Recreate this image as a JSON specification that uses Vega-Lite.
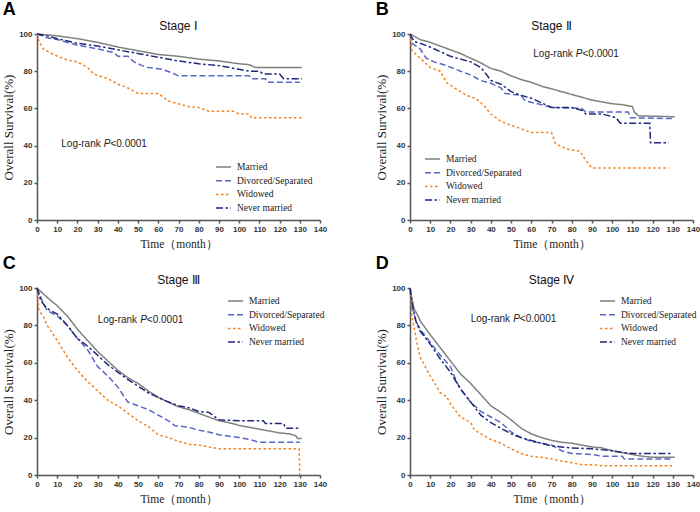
{
"$schema":"https://vega.github.io/schema/vega-lite/v6.json",
"padding":{"left":2,"top":1,"right":2,"bottom":2},
"background":"white",
"datasets":{
"km":[
{"p":"A","g":"Married","t":0,"s":100},{"p":"A","g":"Married","t":5,"s":99.5},{"p":"A","g":"Married","t":10,"s":99},{"p":"A","g":"Married","t":20,"s":97.5},{"p":"A","g":"Married","t":30,"s":95.5},{"p":"A","g":"Married","t":40,"s":93},{"p":"A","g":"Married","t":50,"s":91},{"p":"A","g":"Married","t":60,"s":89},{"p":"A","g":"Married","t":70,"s":88},{"p":"A","g":"Married","t":80,"s":86.5},{"p":"A","g":"Married","t":90,"s":85.5},{"p":"A","g":"Married","t":100,"s":84},{"p":"A","g":"Married","t":105,"s":83.5},{"p":"A","g":"Married","t":108,"s":82},{"p":"A","g":"Married","t":131,"s":82},
{"p":"A","g":"Divorced/Separated","t":0,"s":100},{"p":"A","g":"Divorced/Separated","t":5,"s":98},{"p":"A","g":"Divorced/Separated","t":10,"s":97},{"p":"A","g":"Divorced/Separated","t":20,"s":94},{"p":"A","g":"Divorced/Separated","t":30,"s":92},{"p":"A","g":"Divorced/Separated","t":38,"s":90},{"p":"A","g":"Divorced/Separated","t":40,"s":88},{"p":"A","g":"Divorced/Separated","t":45,"s":88},{"p":"A","g":"Divorced/Separated","t":48,"s":85},{"p":"A","g":"Divorced/Separated","t":52,"s":83},{"p":"A","g":"Divorced/Separated","t":55,"s":82},{"p":"A","g":"Divorced/Separated","t":62,"s":81},{"p":"A","g":"Divorced/Separated","t":67,"s":79},{"p":"A","g":"Divorced/Separated","t":70,"s":77.5},{"p":"A","g":"Divorced/Separated","t":105,"s":77.5},{"p":"A","g":"Divorced/Separated","t":106,"s":76},{"p":"A","g":"Divorced/Separated","t":113,"s":76},{"p":"A","g":"Divorced/Separated","t":114,"s":74},{"p":"A","g":"Divorced/Separated","t":130,"s":74},
{"p":"A","g":"Widowed","t":0,"s":100},{"p":"A","g":"Widowed","t":1,"s":96},{"p":"A","g":"Widowed","t":3,"s":92},{"p":"A","g":"Widowed","t":8,"s":89},{"p":"A","g":"Widowed","t":15,"s":86},{"p":"A","g":"Widowed","t":20,"s":85},{"p":"A","g":"Widowed","t":25,"s":82},{"p":"A","g":"Widowed","t":28,"s":78.5},{"p":"A","g":"Widowed","t":35,"s":76},{"p":"A","g":"Widowed","t":40,"s":73},{"p":"A","g":"Widowed","t":45,"s":71},{"p":"A","g":"Widowed","t":50,"s":68},{"p":"A","g":"Widowed","t":60,"s":68},{"p":"A","g":"Widowed","t":65,"s":64},{"p":"A","g":"Widowed","t":68,"s":63},{"p":"A","g":"Widowed","t":75,"s":61},{"p":"A","g":"Widowed","t":80,"s":60.5},{"p":"A","g":"Widowed","t":85,"s":58.5},{"p":"A","g":"Widowed","t":97,"s":58.5},{"p":"A","g":"Widowed","t":100,"s":57},{"p":"A","g":"Widowed","t":105,"s":57},{"p":"A","g":"Widowed","t":106,"s":55},{"p":"A","g":"Widowed","t":131,"s":55},
{"p":"A","g":"Never married","t":0,"s":100},{"p":"A","g":"Never married","t":5,"s":99},{"p":"A","g":"Never married","t":10,"s":97.5},{"p":"A","g":"Never married","t":20,"s":95},{"p":"A","g":"Never married","t":30,"s":93.5},{"p":"A","g":"Never married","t":40,"s":91.5},{"p":"A","g":"Never married","t":50,"s":89.5},{"p":"A","g":"Never married","t":60,"s":87.5},{"p":"A","g":"Never married","t":70,"s":85.5},{"p":"A","g":"Never married","t":80,"s":84},{"p":"A","g":"Never married","t":90,"s":83},{"p":"A","g":"Never married","t":100,"s":81},{"p":"A","g":"Never married","t":105,"s":80},{"p":"A","g":"Never married","t":110,"s":80},{"p":"A","g":"Never married","t":112,"s":78.5},{"p":"A","g":"Never married","t":120,"s":78.5},{"p":"A","g":"Never married","t":122,"s":76},{"p":"A","g":"Never married","t":131,"s":76},

{"p":"B","g":"Married","t":0,"s":100},{"p":"B","g":"Married","t":5,"s":97},{"p":"B","g":"Married","t":10,"s":95.5},{"p":"B","g":"Married","t":15,"s":93.5},{"p":"B","g":"Married","t":20,"s":91.5},{"p":"B","g":"Married","t":25,"s":89.5},{"p":"B","g":"Married","t":30,"s":87},{"p":"B","g":"Married","t":35,"s":84.5},{"p":"B","g":"Married","t":40,"s":81.5},{"p":"B","g":"Married","t":45,"s":80},{"p":"B","g":"Married","t":50,"s":77.5},{"p":"B","g":"Married","t":55,"s":75.5},{"p":"B","g":"Married","t":60,"s":74},{"p":"B","g":"Married","t":65,"s":72},{"p":"B","g":"Married","t":70,"s":70.5},{"p":"B","g":"Married","t":75,"s":69},{"p":"B","g":"Married","t":80,"s":67.5},{"p":"B","g":"Married","t":85,"s":66},{"p":"B","g":"Married","t":90,"s":64.5},{"p":"B","g":"Married","t":95,"s":63.5},{"p":"B","g":"Married","t":100,"s":62.5},{"p":"B","g":"Married","t":105,"s":62},{"p":"B","g":"Married","t":110,"s":61},{"p":"B","g":"Married","t":111,"s":58},{"p":"B","g":"Married","t":113,"s":56},{"p":"B","g":"Married","t":131,"s":55.5},
{"p":"B","g":"Divorced/Separated","t":0,"s":100},{"p":"B","g":"Divorced/Separated","t":1,"s":95},{"p":"B","g":"Divorced/Separated","t":5,"s":92},{"p":"B","g":"Divorced/Separated","t":8,"s":87},{"p":"B","g":"Divorced/Separated","t":12,"s":85},{"p":"B","g":"Divorced/Separated","t":18,"s":83},{"p":"B","g":"Divorced/Separated","t":25,"s":80},{"p":"B","g":"Divorced/Separated","t":30,"s":78},{"p":"B","g":"Divorced/Separated","t":35,"s":75},{"p":"B","g":"Divorced/Separated","t":40,"s":73.5},{"p":"B","g":"Divorced/Separated","t":45,"s":71},{"p":"B","g":"Divorced/Separated","t":47,"s":68},{"p":"B","g":"Divorced/Separated","t":55,"s":67},{"p":"B","g":"Divorced/Separated","t":57,"s":64},{"p":"B","g":"Divorced/Separated","t":65,"s":62},{"p":"B","g":"Divorced/Separated","t":70,"s":60.5},{"p":"B","g":"Divorced/Separated","t":85,"s":60},{"p":"B","g":"Divorced/Separated","t":87,"s":58},{"p":"B","g":"Divorced/Separated","t":108,"s":58},{"p":"B","g":"Divorced/Separated","t":109,"s":55},{"p":"B","g":"Divorced/Separated","t":130,"s":54.5},
{"p":"B","g":"Widowed","t":0,"s":100},{"p":"B","g":"Widowed","t":1,"s":91},{"p":"B","g":"Widowed","t":5,"s":87},{"p":"B","g":"Widowed","t":10,"s":82},{"p":"B","g":"Widowed","t":15,"s":80},{"p":"B","g":"Widowed","t":18,"s":74},{"p":"B","g":"Widowed","t":22,"s":71},{"p":"B","g":"Widowed","t":28,"s":67},{"p":"B","g":"Widowed","t":33,"s":65},{"p":"B","g":"Widowed","t":37,"s":61},{"p":"B","g":"Widowed","t":40,"s":57},{"p":"B","g":"Widowed","t":45,"s":53},{"p":"B","g":"Widowed","t":50,"s":51},{"p":"B","g":"Widowed","t":55,"s":49},{"p":"B","g":"Widowed","t":60,"s":47},{"p":"B","g":"Widowed","t":70,"s":47},{"p":"B","g":"Widowed","t":72,"s":41},{"p":"B","g":"Widowed","t":78,"s":38},{"p":"B","g":"Widowed","t":84,"s":37},{"p":"B","g":"Widowed","t":87,"s":32},{"p":"B","g":"Widowed","t":90,"s":28},{"p":"B","g":"Widowed","t":128,"s":28},
{"p":"B","g":"Never married","t":0,"s":100},{"p":"B","g":"Never married","t":2,"s":96},{"p":"B","g":"Never married","t":5,"s":95},{"p":"B","g":"Never married","t":10,"s":93},{"p":"B","g":"Never married","t":20,"s":88},{"p":"B","g":"Never married","t":30,"s":85},{"p":"B","g":"Never married","t":35,"s":82},{"p":"B","g":"Never married","t":38,"s":78},{"p":"B","g":"Never married","t":40,"s":75},{"p":"B","g":"Never married","t":45,"s":73},{"p":"B","g":"Never married","t":50,"s":69},{"p":"B","g":"Never married","t":55,"s":67},{"p":"B","g":"Never married","t":60,"s":65.5},{"p":"B","g":"Never married","t":65,"s":63},{"p":"B","g":"Never married","t":70,"s":60.5},{"p":"B","g":"Never married","t":80,"s":60.5},{"p":"B","g":"Never married","t":85,"s":59},{"p":"B","g":"Never married","t":87,"s":57},{"p":"B","g":"Never married","t":95,"s":57},{"p":"B","g":"Never married","t":102,"s":55},{"p":"B","g":"Never married","t":104,"s":52},{"p":"B","g":"Never married","t":118.6,"s":52},{"p":"B","g":"Never married","t":119,"s":41.5},{"p":"B","g":"Never married","t":128,"s":41.5},

{"p":"C","g":"Married","t":0,"s":100},{"p":"C","g":"Married","t":5,"s":95},{"p":"C","g":"Married","t":10,"s":90.5},{"p":"C","g":"Married","t":15,"s":85},{"p":"C","g":"Married","t":20,"s":78},{"p":"C","g":"Married","t":25,"s":72},{"p":"C","g":"Married","t":30,"s":66},{"p":"C","g":"Married","t":35,"s":61},{"p":"C","g":"Married","t":40,"s":56},{"p":"C","g":"Married","t":45,"s":52},{"p":"C","g":"Married","t":50,"s":49},{"p":"C","g":"Married","t":55,"s":45},{"p":"C","g":"Married","t":60,"s":41.5},{"p":"C","g":"Married","t":65,"s":39},{"p":"C","g":"Married","t":70,"s":36.5},{"p":"C","g":"Married","t":75,"s":35},{"p":"C","g":"Married","t":80,"s":33},{"p":"C","g":"Married","t":85,"s":31},{"p":"C","g":"Married","t":90,"s":29},{"p":"C","g":"Married","t":95,"s":28},{"p":"C","g":"Married","t":100,"s":26.5},{"p":"C","g":"Married","t":105,"s":25.5},{"p":"C","g":"Married","t":110,"s":24.5},{"p":"C","g":"Married","t":115,"s":23.5},{"p":"C","g":"Married","t":120,"s":22.5},{"p":"C","g":"Married","t":125,"s":22},{"p":"C","g":"Married","t":128,"s":21},{"p":"C","g":"Married","t":129,"s":19.5},{"p":"C","g":"Married","t":131,"s":19.5},
{"p":"C","g":"Divorced/Separated","t":0,"s":100},{"p":"C","g":"Divorced/Separated","t":3,"s":92},{"p":"C","g":"Divorced/Separated","t":5,"s":88},{"p":"C","g":"Divorced/Separated","t":10,"s":85},{"p":"C","g":"Divorced/Separated","t":15,"s":80},{"p":"C","g":"Divorced/Separated","t":20,"s":73},{"p":"C","g":"Divorced/Separated","t":25,"s":67},{"p":"C","g":"Divorced/Separated","t":30,"s":58},{"p":"C","g":"Divorced/Separated","t":35,"s":53},{"p":"C","g":"Divorced/Separated","t":40,"s":47},{"p":"C","g":"Divorced/Separated","t":43,"s":42},{"p":"C","g":"Divorced/Separated","t":45,"s":39},{"p":"C","g":"Divorced/Separated","t":50,"s":37},{"p":"C","g":"Divorced/Separated","t":55,"s":35},{"p":"C","g":"Divorced/Separated","t":60,"s":32},{"p":"C","g":"Divorced/Separated","t":65,"s":29},{"p":"C","g":"Divorced/Separated","t":68,"s":26.5},{"p":"C","g":"Divorced/Separated","t":75,"s":25.5},{"p":"C","g":"Divorced/Separated","t":80,"s":24},{"p":"C","g":"Divorced/Separated","t":85,"s":23},{"p":"C","g":"Divorced/Separated","t":90,"s":21.5},{"p":"C","g":"Divorced/Separated","t":100,"s":20},{"p":"C","g":"Divorced/Separated","t":105,"s":19},{"p":"C","g":"Divorced/Separated","t":110,"s":17.5},{"p":"C","g":"Divorced/Separated","t":130,"s":17.5},
{"p":"C","g":"Widowed","t":0,"s":100},{"p":"C","g":"Widowed","t":1,"s":88},{"p":"C","g":"Widowed","t":3,"s":85},{"p":"C","g":"Widowed","t":5,"s":80},{"p":"C","g":"Widowed","t":10,"s":72},{"p":"C","g":"Widowed","t":15,"s":63},{"p":"C","g":"Widowed","t":20,"s":56},{"p":"C","g":"Widowed","t":25,"s":50},{"p":"C","g":"Widowed","t":30,"s":45},{"p":"C","g":"Widowed","t":35,"s":40},{"p":"C","g":"Widowed","t":40,"s":37},{"p":"C","g":"Widowed","t":45,"s":33},{"p":"C","g":"Widowed","t":50,"s":29},{"p":"C","g":"Widowed","t":55,"s":26},{"p":"C","g":"Widowed","t":60,"s":21.5},{"p":"C","g":"Widowed","t":65,"s":20},{"p":"C","g":"Widowed","t":70,"s":18},{"p":"C","g":"Widowed","t":75,"s":16.5},{"p":"C","g":"Widowed","t":80,"s":16},{"p":"C","g":"Widowed","t":85,"s":15},{"p":"C","g":"Widowed","t":90,"s":14},{"p":"C","g":"Widowed","t":129.7,"s":14},{"p":"C","g":"Widowed","t":130,"s":0},
{"p":"C","g":"Never married","t":0,"s":100},{"p":"C","g":"Never married","t":2,"s":93},{"p":"C","g":"Never married","t":5,"s":89},{"p":"C","g":"Never married","t":10,"s":86},{"p":"C","g":"Never married","t":15,"s":80},{"p":"C","g":"Never married","t":20,"s":73},{"p":"C","g":"Never married","t":25,"s":69},{"p":"C","g":"Never married","t":30,"s":64},{"p":"C","g":"Never married","t":35,"s":59},{"p":"C","g":"Never married","t":40,"s":55},{"p":"C","g":"Never married","t":45,"s":51},{"p":"C","g":"Never married","t":50,"s":47.5},{"p":"C","g":"Never married","t":55,"s":44},{"p":"C","g":"Never married","t":60,"s":41.5},{"p":"C","g":"Never married","t":65,"s":39},{"p":"C","g":"Never married","t":70,"s":37},{"p":"C","g":"Never married","t":75,"s":36},{"p":"C","g":"Never married","t":80,"s":34},{"p":"C","g":"Never married","t":85,"s":33.5},{"p":"C","g":"Never married","t":90,"s":29.5},{"p":"C","g":"Never married","t":100,"s":29},{"p":"C","g":"Never married","t":112,"s":29},{"p":"C","g":"Never married","t":113,"s":27.5},{"p":"C","g":"Never married","t":122,"s":27.5},{"p":"C","g":"Never married","t":123,"s":25},{"p":"C","g":"Never married","t":130,"s":25},

{"p":"D","g":"Married","t":0,"s":100},{"p":"D","g":"Married","t":1,"s":94},{"p":"D","g":"Married","t":2,"s":89},{"p":"D","g":"Married","t":4,"s":85},{"p":"D","g":"Married","t":5,"s":82.5},{"p":"D","g":"Married","t":10,"s":75},{"p":"D","g":"Married","t":15,"s":68},{"p":"D","g":"Married","t":20,"s":61},{"p":"D","g":"Married","t":25,"s":54},{"p":"D","g":"Married","t":30,"s":49},{"p":"D","g":"Married","t":35,"s":43},{"p":"D","g":"Married","t":40,"s":37},{"p":"D","g":"Married","t":45,"s":33.5},{"p":"D","g":"Married","t":50,"s":29.5},{"p":"D","g":"Married","t":55,"s":25},{"p":"D","g":"Married","t":60,"s":22},{"p":"D","g":"Married","t":65,"s":20},{"p":"D","g":"Married","t":70,"s":18.5},{"p":"D","g":"Married","t":75,"s":17.5},{"p":"D","g":"Married","t":80,"s":17},{"p":"D","g":"Married","t":85,"s":16},{"p":"D","g":"Married","t":90,"s":15},{"p":"D","g":"Married","t":95,"s":14.5},{"p":"D","g":"Married","t":100,"s":13},{"p":"D","g":"Married","t":105,"s":12},{"p":"D","g":"Married","t":110,"s":11},{"p":"D","g":"Married","t":115,"s":10},{"p":"D","g":"Married","t":120,"s":9.5},{"p":"D","g":"Married","t":131,"s":9.5},
{"p":"D","g":"Divorced/Separated","t":0,"s":100},{"p":"D","g":"Divorced/Separated","t":1,"s":90},{"p":"D","g":"Divorced/Separated","t":3,"s":82},{"p":"D","g":"Divorced/Separated","t":5,"s":78},{"p":"D","g":"Divorced/Separated","t":10,"s":71},{"p":"D","g":"Divorced/Separated","t":15,"s":64},{"p":"D","g":"Divorced/Separated","t":20,"s":58},{"p":"D","g":"Divorced/Separated","t":23,"s":50},{"p":"D","g":"Divorced/Separated","t":25,"s":46},{"p":"D","g":"Divorced/Separated","t":30,"s":39},{"p":"D","g":"Divorced/Separated","t":35,"s":34},{"p":"D","g":"Divorced/Separated","t":40,"s":31},{"p":"D","g":"Divorced/Separated","t":45,"s":28},{"p":"D","g":"Divorced/Separated","t":50,"s":23},{"p":"D","g":"Divorced/Separated","t":55,"s":20},{"p":"D","g":"Divorced/Separated","t":60,"s":18},{"p":"D","g":"Divorced/Separated","t":65,"s":17},{"p":"D","g":"Divorced/Separated","t":70,"s":16},{"p":"D","g":"Divorced/Separated","t":75,"s":13},{"p":"D","g":"Divorced/Separated","t":80,"s":11.5},{"p":"D","g":"Divorced/Separated","t":90,"s":11},{"p":"D","g":"Divorced/Separated","t":95,"s":10},{"p":"D","g":"Divorced/Separated","t":105,"s":10},{"p":"D","g":"Divorced/Separated","t":106,"s":8.5},{"p":"D","g":"Divorced/Separated","t":130,"s":8.5},
{"p":"D","g":"Widowed","t":0,"s":100},{"p":"D","g":"Widowed","t":1,"s":85},{"p":"D","g":"Widowed","t":3,"s":73},{"p":"D","g":"Widowed","t":5,"s":63},{"p":"D","g":"Widowed","t":10,"s":53},{"p":"D","g":"Widowed","t":15,"s":44},{"p":"D","g":"Widowed","t":18,"s":42},{"p":"D","g":"Widowed","t":20,"s":38},{"p":"D","g":"Widowed","t":25,"s":31},{"p":"D","g":"Widowed","t":30,"s":28},{"p":"D","g":"Widowed","t":32,"s":24},{"p":"D","g":"Widowed","t":35,"s":22},{"p":"D","g":"Widowed","t":40,"s":19},{"p":"D","g":"Widowed","t":45,"s":17},{"p":"D","g":"Widowed","t":50,"s":14},{"p":"D","g":"Widowed","t":55,"s":11.5},{"p":"D","g":"Widowed","t":60,"s":10},{"p":"D","g":"Widowed","t":65,"s":9.5},{"p":"D","g":"Widowed","t":70,"s":8.5},{"p":"D","g":"Widowed","t":75,"s":7.5},{"p":"D","g":"Widowed","t":80,"s":6.5},{"p":"D","g":"Widowed","t":85,"s":5.5},{"p":"D","g":"Widowed","t":90,"s":5.5},{"p":"D","g":"Widowed","t":95,"s":5},{"p":"D","g":"Widowed","t":130,"s":5},
{"p":"D","g":"Never married","t":0,"s":100},{"p":"D","g":"Never married","t":1,"s":92},{"p":"D","g":"Never married","t":3,"s":82},{"p":"D","g":"Never married","t":5,"s":77},{"p":"D","g":"Never married","t":10,"s":70},{"p":"D","g":"Never married","t":15,"s":62},{"p":"D","g":"Never married","t":20,"s":55},{"p":"D","g":"Never married","t":25,"s":46},{"p":"D","g":"Never married","t":30,"s":39},{"p":"D","g":"Never married","t":35,"s":32},{"p":"D","g":"Never married","t":40,"s":28},{"p":"D","g":"Never married","t":45,"s":25},{"p":"D","g":"Never married","t":50,"s":22},{"p":"D","g":"Never married","t":55,"s":20},{"p":"D","g":"Never married","t":60,"s":18.5},{"p":"D","g":"Never married","t":65,"s":17},{"p":"D","g":"Never married","t":70,"s":15.5},{"p":"D","g":"Never married","t":75,"s":15},{"p":"D","g":"Never married","t":80,"s":14.5},{"p":"D","g":"Never married","t":90,"s":14},{"p":"D","g":"Never married","t":100,"s":13},{"p":"D","g":"Never married","t":105,"s":12},{"p":"D","g":"Never married","t":110,"s":11.5},{"p":"D","g":"Never married","t":130,"s":11.5}
],
"notes":[{"p":"A","t":12,"s":41},{"p":"B","t":61,"s":89},{"p":"C","t":30,"s":83},{"p":"D","t":30,"s":83.4}]
},
"columns":2,
"spacing":{"row":5,"column":48},
"resolve":{"scale":{"color":"independent","strokeDash":"independent"},"legend":{"color":"independent","strokeDash":"independent"}},
"concat":[
{"title":{"text":"A","anchor":"start","fontSize":18,"fontWeight":"bold","font":"Liberation Sans","color":"#000","offset":1},
 "vconcat":[{"width":283,"height":186,"title":{"text":"Stage Ⅰ"},
 "layer":[
 {"data":{"name":"km"},"transform":[{"filter":"datum.p==='A'"}],"mark":{"type":"line","strokeWidth":1.5},
  "encoding":{
   "x":{"field":"t","type":"quantitative","scale":{"domain":[0,140],"nice":false},"axis":{"values":[0,10,20,30,40,50,60,70,80,90,100,110,120,130,140],"tickCount":20,"labelOverlap":false,"title":"Time（month）"}},
   "y":{"field":"s","type":"quantitative","scale":{"domain":[0,100],"nice":false},"axis":{"values":[0,20,40,60,80,100],"tickCount":20,"labelOverlap":false,"title":"Overall Survival(%)"}},
   "color":{"field":"g","type":"nominal","scale":{"domain":["Married","Divorced/Separated","Widowed","Never married"],"range":["#808080","#5a66c4","#f5821f","#1f2878"]},"legend":{"title":null,"orient":"none","legendX":178,"legendY":128}},
   "strokeDash":{"field":"g","type":"nominal","scale":{"domain":["Married","Divorced/Separated","Widowed","Never married"],"range":[[1,0],[6,3],[2.5,2.5],[7,2.5,2.5,2.5]]},"legend":{"title":null,"orient":"none","legendX":178,"legendY":128}}
  }},
 {"data":{"name":"notes"},"transform":[{"filter":"datum.p==='A'"}],"mark":{"type":"text","text":"Log-rank","align":"left","baseline":"middle","fontSize":10,"font":"Liberation Sans","color":"#222"},"encoding":{"x":{"field":"t","type":"quantitative"},"y":{"field":"s","type":"quantitative"}}},
 {"data":{"name":"notes"},"transform":[{"filter":"datum.p==='A'"}],"mark":{"type":"text","text":"P","dx":42.5,"align":"left","baseline":"middle","fontSize":10,"fontStyle":"italic","font":"Liberation Sans","color":"#222"},"encoding":{"x":{"field":"t","type":"quantitative"},"y":{"field":"s","type":"quantitative"}}},
 {"data":{"name":"notes"},"transform":[{"filter":"datum.p==='A'"}],"mark":{"type":"text","text":"<0.0001","dx":49.2,"align":"left","baseline":"middle","fontSize":10,"font":"Liberation Sans","color":"#222"},"encoding":{"x":{"field":"t","type":"quantitative"},"y":{"field":"s","type":"quantitative"}}}
 ]}]},
{"title":{"text":"B","anchor":"start","fontSize":18,"fontWeight":"bold","font":"Liberation Sans","color":"#000","offset":1},
 "vconcat":[{"width":283,"height":186,"title":{"text":"Stage Ⅱ"},
 "layer":[
 {"data":{"name":"km"},"transform":[{"filter":"datum.p==='B'"}],"mark":{"type":"line","strokeWidth":1.5},
  "encoding":{
   "x":{"field":"t","type":"quantitative","scale":{"domain":[0,140],"nice":false},"axis":{"values":[0,10,20,30,40,50,60,70,80,90,100,110,120,130,140],"tickCount":20,"labelOverlap":false,"title":"Time（month）"}},
   "y":{"field":"s","type":"quantitative","scale":{"domain":[0,100],"nice":false},"axis":{"values":[0,20,40,60,80,100],"tickCount":20,"labelOverlap":false,"title":"Overall Survival(%)"}},
   "color":{"field":"g","type":"nominal","scale":{"domain":["Married","Divorced/Separated","Widowed","Never married"],"range":["#808080","#5a66c4","#f5821f","#1f2878"]},"legend":{"title":null,"orient":"none","legendX":14,"legendY":120}},
   "strokeDash":{"field":"g","type":"nominal","scale":{"domain":["Married","Divorced/Separated","Widowed","Never married"],"range":[[1,0],[6,3],[2.5,2.5],[7,2.5,2.5,2.5]]},"legend":{"title":null,"orient":"none","legendX":14,"legendY":120}}
  }},
 {"data":{"name":"notes"},"transform":[{"filter":"datum.p==='B'"}],"mark":{"type":"text","text":"Log-rank","align":"left","baseline":"middle","fontSize":10,"font":"Liberation Sans","color":"#222"},"encoding":{"x":{"field":"t","type":"quantitative"},"y":{"field":"s","type":"quantitative"}}},
 {"data":{"name":"notes"},"transform":[{"filter":"datum.p==='B'"}],"mark":{"type":"text","text":"P","dx":42.5,"align":"left","baseline":"middle","fontSize":10,"fontStyle":"italic","font":"Liberation Sans","color":"#222"},"encoding":{"x":{"field":"t","type":"quantitative"},"y":{"field":"s","type":"quantitative"}}},
 {"data":{"name":"notes"},"transform":[{"filter":"datum.p==='B'"}],"mark":{"type":"text","text":"<0.0001","dx":49.2,"align":"left","baseline":"middle","fontSize":10,"font":"Liberation Sans","color":"#222"},"encoding":{"x":{"field":"t","type":"quantitative"},"y":{"field":"s","type":"quantitative"}}}
 ]}]},
{"title":{"text":"C","anchor":"start","fontSize":18,"fontWeight":"bold","font":"Liberation Sans","color":"#000","offset":1},
 "vconcat":[{"width":283,"height":187,"title":{"text":"Stage Ⅲ"},
 "layer":[
 {"data":{"name":"km"},"transform":[{"filter":"datum.p==='C'"}],"mark":{"type":"line","strokeWidth":1.5},
  "encoding":{
   "x":{"field":"t","type":"quantitative","scale":{"domain":[0,140],"nice":false},"axis":{"values":[0,10,20,30,40,50,60,70,80,90,100,110,120,130,140],"tickCount":20,"labelOverlap":false,"title":"Time（month）"}},
   "y":{"field":"s","type":"quantitative","scale":{"domain":[0,100],"nice":false},"axis":{"values":[0,20,40,60,80,100],"tickCount":20,"labelOverlap":false,"title":"Overall Survival(%)"}},
   "color":{"field":"g","type":"nominal","scale":{"domain":["Married","Divorced/Separated","Widowed","Never married"],"range":["#808080","#5a66c4","#f5821f","#1f2878"]},"legend":{"title":null,"orient":"none","legendX":190,"legendY":8}},
   "strokeDash":{"field":"g","type":"nominal","scale":{"domain":["Married","Divorced/Separated","Widowed","Never married"],"range":[[1,0],[6,3],[2.5,2.5],[7,2.5,2.5,2.5]]},"legend":{"title":null,"orient":"none","legendX":190,"legendY":8}}
  }},
 {"data":{"name":"notes"},"transform":[{"filter":"datum.p==='C'"}],"mark":{"type":"text","text":"Log-rank","align":"left","baseline":"middle","fontSize":10,"font":"Liberation Sans","color":"#222"},"encoding":{"x":{"field":"t","type":"quantitative"},"y":{"field":"s","type":"quantitative"}}},
 {"data":{"name":"notes"},"transform":[{"filter":"datum.p==='C'"}],"mark":{"type":"text","text":"P","dx":42.5,"align":"left","baseline":"middle","fontSize":10,"fontStyle":"italic","font":"Liberation Sans","color":"#222"},"encoding":{"x":{"field":"t","type":"quantitative"},"y":{"field":"s","type":"quantitative"}}},
 {"data":{"name":"notes"},"transform":[{"filter":"datum.p==='C'"}],"mark":{"type":"text","text":"<0.0001","dx":49.2,"align":"left","baseline":"middle","fontSize":10,"font":"Liberation Sans","color":"#222"},"encoding":{"x":{"field":"t","type":"quantitative"},"y":{"field":"s","type":"quantitative"}}}
 ]}]},
{"title":{"text":"D","anchor":"start","fontSize":18,"fontWeight":"bold","font":"Liberation Sans","color":"#000","offset":1},
 "vconcat":[{"width":283,"height":187,"title":{"text":"Stage Ⅳ"},
 "layer":[
 {"data":{"name":"km"},"transform":[{"filter":"datum.p==='D'"}],"mark":{"type":"line","strokeWidth":1.5},
  "encoding":{
   "x":{"field":"t","type":"quantitative","scale":{"domain":[0,140],"nice":false},"axis":{"values":[0,10,20,30,40,50,60,70,80,90,100,110,120,130,140],"tickCount":20,"labelOverlap":false,"title":"Time（month）"}},
   "y":{"field":"s","type":"quantitative","scale":{"domain":[0,100],"nice":false},"axis":{"values":[0,20,40,60,80,100],"tickCount":20,"labelOverlap":false,"title":"Overall Survival(%)"}},
   "color":{"field":"g","type":"nominal","scale":{"domain":["Married","Divorced/Separated","Widowed","Never married"],"range":["#808080","#5a66c4","#f5821f","#1f2878"]},"legend":{"title":null,"orient":"none","legendX":189,"legendY":8}},
   "strokeDash":{"field":"g","type":"nominal","scale":{"domain":["Married","Divorced/Separated","Widowed","Never married"],"range":[[1,0],[6,3],[2.5,2.5],[7,2.5,2.5,2.5]]},"legend":{"title":null,"orient":"none","legendX":189,"legendY":8}}
  }},
 {"data":{"name":"notes"},"transform":[{"filter":"datum.p==='D'"}],"mark":{"type":"text","text":"Log-rank","align":"left","baseline":"middle","fontSize":10,"font":"Liberation Sans","color":"#222"},"encoding":{"x":{"field":"t","type":"quantitative"},"y":{"field":"s","type":"quantitative"}}},
 {"data":{"name":"notes"},"transform":[{"filter":"datum.p==='D'"}],"mark":{"type":"text","text":"P","dx":42.5,"align":"left","baseline":"middle","fontSize":10,"fontStyle":"italic","font":"Liberation Sans","color":"#222"},"encoding":{"x":{"field":"t","type":"quantitative"},"y":{"field":"s","type":"quantitative"}}},
 {"data":{"name":"notes"},"transform":[{"filter":"datum.p==='D'"}],"mark":{"type":"text","text":"<0.0001","dx":49.2,"align":"left","baseline":"middle","fontSize":10,"font":"Liberation Sans","color":"#222"},"encoding":{"x":{"field":"t","type":"quantitative"},"y":{"field":"s","type":"quantitative"}}}
 ]}]}
],
"config":{
 "view":{"stroke":null},
 "font":"Liberation Sans",
 "title":{"font":"Liberation Sans","fontSize":12,"fontWeight":"normal","color":"#111","offset":-3},
 "axis":{"grid":false,"domainColor":"#555","domainWidth":1.5,"tickColor":"#555","tickWidth":1.5,"tickSize":3,"labelFont":"Liberation Sans","labelFontWeight":"bold","labelFontSize":8,"labelColor":"#333","labelOverlap":false,"titleFont":"Liberation Serif","titleFontWeight":"normal","titleColor":"#222"},
 "axisX":{"titleFontSize":11.5,"titlePadding":5,"labelPadding":2,"labelFlush":false},
 "axisY":{"titleFontSize":13,"titlePadding":3,"labelPadding":2},
 "legend":{"labelFont":"Liberation Serif","labelFontSize":9.5,"labelColor":"#222","symbolType":"stroke","symbolSize":225,"symbolStrokeWidth":1.5,"rowPadding":3.7,"clipHeight":10,"labelOffset":5}
}
}
